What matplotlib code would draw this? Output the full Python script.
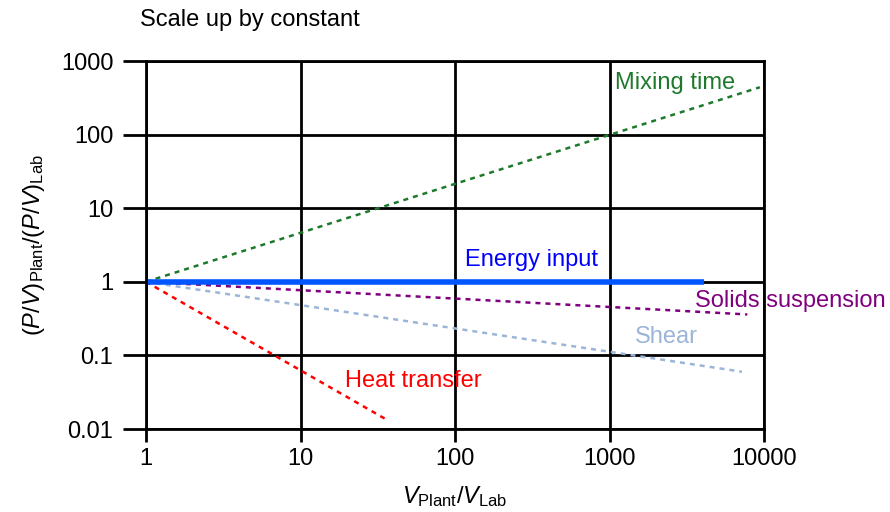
import matplotlib.pyplot as plt
import numpy as np

plt.rcParams['font.family'] = ['Liberation Sans', 'DejaVu Sans']
plt.rcParams['mathtext.fontset'] = 'custom'
plt.rcParams['mathtext.rm'] = 'Liberation Sans'
plt.rcParams['mathtext.it'] = 'Liberation Sans:italic'

# volume ratio ticks / power-per-volume ratio ticks
x_ticks = [1, 10, 100, 1000, 10000]
x_labels = ['1', '10', '100', '1000', '10000']
y_ticks = [0.01, 0.1, 1, 10, 100, 1000]
y_labels = ['0.01', '0.1', '1', '10', '100', '1000']

# each criterion is a straight line on log-log axes (start and end)
mixing_x = [1, 9400]
mixing_y = [1, 440]
energy_x = [1, 4100]
energy_y = [1, 1]
solids_x = [1, 7800]
solids_y = [1, 0.36]
shear_x = [1, 7200]
shear_y = [1, 0.06]
heat_x = [1, 37]
heat_y = [1, 0.013]

fig = plt.figure(figsize=(8.9, 5.12), dpi=100)
ax = fig.add_axes([146/890, 1-429/512, (764-146)/890, (429-61)/512])
ax.set_xscale('log')
ax.set_yscale('log')

dots = (0, (2, 2))
ax.plot(mixing_x, mixing_y, color='#1d7a2c', lw=1.8, ls=dots)
ax.plot(solids_x, solids_y, color='#800080', lw=1.8, ls=dots)
ax.plot(shear_x, shear_y, color='#9bb5d8', lw=1.8, ls=dots)
ax.plot(heat_x, heat_y, color='#ff0000', lw=1.8, ls=dots)
ax.plot(energy_x, energy_y, color='#0055ff', lw=4, solid_capstyle='butt')

fs = 17
ax.text(1086, 500, 'Mixing time', color='#1d7a2c', fontsize=fs, va='center')
ax.text(116, 1.99, 'Energy input', color='#0000ff', fontsize=fs, va='center')
ax.text(3575, 0.552, 'Solids suspension', color='#800080', fontsize=fs, va='center')
ax.text(1462, 0.179, 'Shear', color='#9bb5d8', fontsize=fs, va='center')
ax.text(19.4, 0.0454, 'Heat transfer', color='#ff0000', fontsize=fs, va='center')

ax.set_xlim(1, 10000)
ax.set_ylim(0.01, 1000)
ax.set_xticks(x_ticks)
ax.set_xticklabels(x_labels)
ax.set_yticks(y_ticks)
ax.set_yticklabels(y_labels)
ax.minorticks_off()
ax.tick_params(axis='x', direction='out', length=9, width=2, color='black', labelsize=fs, pad=5)
ax.tick_params(axis='y', direction='out', length=16.5, width=2, color='black', labelsize=fs, pad=7)
ax.grid(True, color='black', lw=2)
ax.set_axisbelow(True)
for s in ax.spines.values():
    s.set_linewidth(2)
    s.set_color('black')

ax.set_xlabel(r'$\mathit{V}_{\mathrm{Plant}}/\mathit{V}_{\mathrm{Lab}}$', fontsize=fs, labelpad=10)
ax.set_ylabel(r'$(\mathit{P}/\mathit{V})_{\mathrm{Plant}}/(\mathit{P}/\mathit{V})_{\mathrm{Lab}}$', fontsize=fs, labelpad=10)
fig.text(140/890, 1-20/512, 'Scale up by constant', fontsize=fs, va='center')

fig.savefig('out.png', dpi=100)
